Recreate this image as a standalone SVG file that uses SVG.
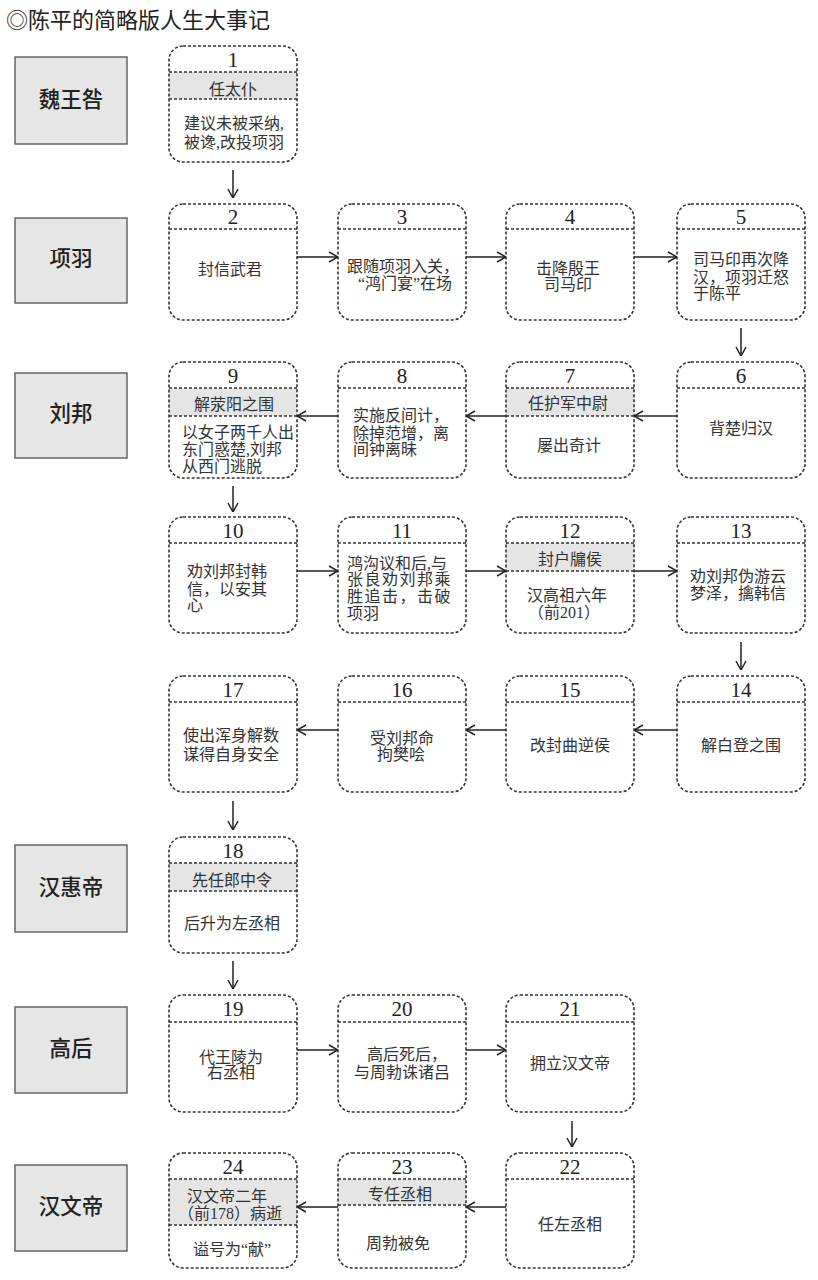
<svg xmlns="http://www.w3.org/2000/svg" width="818" height="1280" viewBox="0 0 818 1280">
<style>
.bg{fill:#fff}
.box{fill:none;stroke:#333;stroke-width:1.6;stroke-dasharray:3 2}
.sep{stroke:#333;stroke-width:1.6;stroke-dasharray:3 2}
.band{fill:#e5e5e5}
.num{font-family:"Liberation Serif",serif;font-size:21px;text-anchor:middle;fill:#222}
.t{font-family:"Liberation Serif","Noto Sans CJK SC",serif;font-size:16px;fill:#333}
.c{text-anchor:middle}
.lab rect{fill:#e6e6e6;stroke:#666;stroke-width:1.5}
.lab text{font-family:"Noto Sans CJK SC",sans-serif;font-size:21.5px;font-weight:500;text-anchor:middle;fill:#222}
.title{font-family:"Noto Sans CJK SC",sans-serif;font-size:22px;fill:#222}
.conn line{stroke:#222;stroke-width:1.5;marker-end:url(#ah)}
</style>
<defs>
<marker id="ah" viewBox="0 0 10 12" refX="10" refY="6" markerWidth="10" markerHeight="12" markerUnits="userSpaceOnUse" orient="auto">
<path d="M1,1 L10,6 L1,11" fill="none" stroke="#222" stroke-width="1.5"/>
</marker>
</defs>
<rect class="bg" x="0" y="0" width="818" height="1280"/>
<text class="title" x="6" y="28">◎陈平的简略版人生大事记</text>

<g id="labels" class="lab">
<g id="L1"><rect x="15" y="57" width="112" height="87"/><text x="71" y="107">魏王咎</text></g>
<g id="L2"><rect x="15" y="218" width="112" height="85"/><text x="71" y="266">项羽</text></g>
<g id="L3"><rect x="15" y="373" width="112" height="85"/><text x="71" y="421">刘邦</text></g>
<g id="L4"><rect x="15" y="845" width="112" height="87"/><text x="71" y="895">汉惠帝</text></g>
<g id="L5"><rect x="15" y="1007" width="112" height="86"/><text x="71" y="1056">高后</text></g>
<g id="L6"><rect x="15" y="1165" width="112" height="86"/><text x="71" y="1214">汉文帝</text></g>
</g>

<g id="n1">
<rect class="band" x="169" y="72" width="128" height="27"/>
<rect class="box" x="169" y="46" width="128" height="116" rx="14"/>
<line class="sep" x1="169" y1="72" x2="297" y2="72"/><line class="sep" x1="169" y1="99" x2="297" y2="99"/>
<text class="num" x="233" y="67">1</text>
<text class="t c" x="233" y="94.5">任太仆</text>
<text class="t c" x="234" y="128.5">建议未被采纳,</text>
<text class="t c" x="234" y="147.5">被谗,改投项羽</text>
</g>

<g id="n2">
<rect class="box" x="169" y="204" width="128" height="116" rx="14"/>
<line class="sep" x1="169" y1="229" x2="297" y2="229"/>
<text class="num" x="233" y="224">2</text>
<text class="t c" x="230" y="275">封信武君</text>
</g>
<g id="n3">
<rect class="box" x="338" y="204" width="128" height="116" rx="14"/>
<line class="sep" x1="338" y1="229" x2="466" y2="229"/>
<text class="num" x="402" y="224">3</text>
<text class="t c" x="403" y="272">跟随项羽入关，</text>
<text class="t c" x="405" y="288.5">“鸿门宴”在场</text>
</g>
<g id="n4">
<rect class="box" x="506" y="204" width="128" height="116" rx="14"/>
<line class="sep" x1="506" y1="229" x2="634" y2="229"/>
<text class="num" x="570" y="224">4</text>
<text class="t c" x="568" y="273.5">击降殷王</text>
<text class="t c" x="568" y="290">司马印</text>
</g>
<g id="n5">
<rect class="box" x="677" y="204" width="128" height="116" rx="14"/>
<line class="sep" x1="677" y1="229" x2="805" y2="229"/>
<text class="num" x="741" y="224">5</text>
<text class="t" x="693" y="265">司马印再次降</text>
<text class="t" x="693" y="282.5">汉，项羽迁怒</text>
<text class="t" x="693" y="298.5">于陈平</text>
</g>

<g id="n6">
<rect class="box" x="677" y="362" width="128" height="116" rx="14"/>
<line class="sep" x1="677" y1="388" x2="805" y2="388"/>
<text class="num" x="741" y="383">6</text>
<text class="t c" x="741" y="433.5">背楚归汉</text>
</g>
<g id="n7">
<rect class="band" x="506" y="388" width="128" height="28"/>
<rect class="box" x="506" y="362" width="128" height="116" rx="14"/>
<line class="sep" x1="506" y1="388" x2="634" y2="388"/><line class="sep" x1="506" y1="416" x2="634" y2="416"/>
<text class="num" x="570" y="383">7</text>
<text class="t c" x="568" y="408.5">任护军中尉</text>
<text class="t c" x="569" y="451">屡出奇计</text>
</g>
<g id="n8">
<rect class="box" x="338" y="362" width="128" height="116" rx="14"/>
<line class="sep" x1="338" y1="388" x2="466" y2="388"/>
<text class="num" x="402" y="383">8</text>
<text class="t" x="353" y="421">实施反间计，</text>
<text class="t" x="353" y="438.5">除掉范增，离</text>
<text class="t" x="353" y="455">间钟离昧</text>
</g>
<g id="n9">
<rect class="band" x="169" y="388" width="128" height="28"/>
<rect class="box" x="169" y="362" width="128" height="116" rx="14"/>
<line class="sep" x1="169" y1="388" x2="297" y2="388"/><line class="sep" x1="169" y1="416" x2="297" y2="416"/>
<text class="num" x="233" y="383">9</text>
<text class="t c" x="234" y="409.5">解荥阳之围</text>
<text class="t" x="182" y="437.5">以女子两千人出</text>
<text class="t" x="182" y="455">东门惑楚,刘邦</text>
<text class="t" x="182" y="472">从西门逃脱</text>
</g>

<g id="n10">
<rect class="box" x="169" y="517" width="128" height="116" rx="14"/>
<line class="sep" x1="169" y1="543" x2="297" y2="543"/>
<text class="num" x="233" y="538">10</text>
<text class="t" x="187" y="577">劝刘邦封韩</text>
<text class="t" x="187" y="595">信，以安其</text>
<text class="t" x="187" y="611">心</text>
</g>
<g id="n11">
<rect class="box" x="338" y="517" width="128" height="116" rx="14"/>
<line class="sep" x1="338" y1="543" x2="466" y2="543"/>
<text class="num" x="402" y="538">11</text>
<text class="t" x="347" y="568.5">鸿沟议和后,与</text>
<text class="t" x="347" y="585" letter-spacing="1.5">张良劝刘邦乘</text>
<text class="t" x="347" y="602" letter-spacing="1.5">胜追击，击破</text>
<text class="t" x="347" y="618.5">项羽</text>
</g>
<g id="n12">
<rect class="band" x="506" y="543" width="128" height="28"/>
<rect class="box" x="506" y="517" width="128" height="116" rx="14"/>
<line class="sep" x1="506" y1="543" x2="634" y2="543"/><line class="sep" x1="506" y1="571" x2="634" y2="571"/>
<text class="num" x="570" y="538">12</text>
<text class="t c" x="570" y="564.5">封户牖侯</text>
<text class="t c" x="567" y="600.5">汉高祖六年</text>
<text class="t c" x="564" y="618">（前201）</text>
</g>
<g id="n13">
<rect class="box" x="677" y="517" width="128" height="116" rx="14"/>
<line class="sep" x1="677" y1="543" x2="805" y2="543"/>
<text class="num" x="741" y="538">13</text>
<text class="t c" x="738" y="582">劝刘邦伪游云</text>
<text class="t c" x="738" y="598.5">梦泽，擒韩信</text>
</g>

<g id="n14">
<rect class="box" x="677" y="676" width="128" height="116" rx="14"/>
<line class="sep" x1="677" y1="702" x2="805" y2="702"/>
<text class="num" x="741" y="697">14</text>
<text class="t c" x="741" y="750.5">解白登之围</text>
</g>
<g id="n15">
<rect class="box" x="506" y="676" width="128" height="116" rx="14"/>
<line class="sep" x1="506" y1="702" x2="634" y2="702"/>
<text class="num" x="570" y="697">15</text>
<text class="t c" x="570" y="750.5">改封曲逆侯</text>
</g>
<g id="n16">
<rect class="box" x="338" y="676" width="128" height="116" rx="14"/>
<line class="sep" x1="338" y1="702" x2="466" y2="702"/>
<text class="num" x="402" y="697">16</text>
<text class="t c" x="402" y="743.5">受刘邦命</text>
<text class="t c" x="401" y="760">拘樊哙</text>
</g>
<g id="n17">
<rect class="box" x="169" y="676" width="128" height="116" rx="14"/>
<line class="sep" x1="169" y1="702" x2="297" y2="702"/>
<text class="num" x="233" y="697">17</text>
<text class="t c" x="231" y="741">使出浑身解数</text>
<text class="t c" x="231" y="759.5">谋得自身安全</text>
</g>

<g id="n18">
<rect class="band" x="169" y="863" width="128" height="28"/>
<rect class="box" x="169" y="837" width="128" height="116" rx="14"/>
<line class="sep" x1="169" y1="863" x2="297" y2="863"/><line class="sep" x1="169" y1="891" x2="297" y2="891"/>
<text class="num" x="233" y="858">18</text>
<text class="t c" x="232" y="886">先任郎中令</text>
<text class="t c" x="232" y="928.5">后升为左丞相</text>
</g>

<g id="n19">
<rect class="box" x="169" y="995" width="128" height="117" rx="14"/>
<line class="sep" x1="169" y1="1022" x2="297" y2="1022"/>
<text class="num" x="233" y="1016">19</text>
<text class="t c" x="231" y="1062.5">代王陵为</text>
<text class="t c" x="231" y="1077.5">右丞相</text>
</g>
<g id="n20">
<rect class="box" x="338" y="995" width="128" height="117" rx="14"/>
<line class="sep" x1="338" y1="1022" x2="466" y2="1022"/>
<text class="num" x="402" y="1016">20</text>
<text class="t c" x="407" y="1059.5">高后死后，</text>
<text class="t c" x="402" y="1077.5">与周勃诛诸吕</text>
</g>
<g id="n21">
<rect class="box" x="506" y="995" width="128" height="117" rx="14"/>
<line class="sep" x1="506" y1="1022" x2="634" y2="1022"/>
<text class="num" x="570" y="1016">21</text>
<text class="t c" x="570" y="1068.5">拥立汉文帝</text>
</g>

<g id="n22">
<rect class="box" x="506" y="1153" width="128" height="115" rx="14"/>
<line class="sep" x1="506" y1="1179" x2="634" y2="1179"/>
<text class="num" x="570" y="1174">22</text>
<text class="t c" x="570" y="1229.5">任左丞相</text>
</g>
<g id="n23">
<rect class="band" x="338" y="1179" width="128" height="26"/>
<rect class="box" x="338" y="1153" width="128" height="115" rx="14"/>
<line class="sep" x1="338" y1="1179" x2="466" y2="1179"/><line class="sep" x1="338" y1="1205" x2="466" y2="1205"/>
<text class="num" x="402" y="1174">23</text>
<text class="t c" x="400" y="1199.5">专任丞相</text>
<text class="t c" x="398" y="1248.5">周勃被免</text>
</g>
<g id="n24">
<rect class="band" x="169" y="1179" width="128" height="46"/>
<rect class="box" x="169" y="1153" width="128" height="115" rx="14"/>
<line class="sep" x1="169" y1="1179" x2="297" y2="1179"/><line class="sep" x1="169" y1="1225" x2="297" y2="1225"/>
<text class="num" x="233" y="1174">24</text>
<text class="t c" x="227" y="1201.5">汉文帝二年</text>
<text class="t c" x="230" y="1218.5">（前178）病逝</text>
<text class="t c" x="232" y="1254.5">谥号为“献”</text>
</g>

<g id="connectors" class="conn">
<line x1="233" y1="170" x2="233" y2="198"/>
<line x1="297" y1="257" x2="338" y2="257"/>
<line x1="466" y1="257" x2="506" y2="257"/>
<line x1="634" y1="257" x2="677" y2="257"/>
<line x1="741" y1="328" x2="741" y2="356"/>
<line x1="677" y1="416" x2="634" y2="416"/>
<line x1="506" y1="416" x2="466" y2="416"/>
<line x1="338" y1="416" x2="297" y2="416"/>
<line x1="233" y1="486" x2="233" y2="512"/>
<line x1="297" y1="571" x2="338" y2="571"/>
<line x1="466" y1="571" x2="506" y2="571"/>
<line x1="634" y1="571" x2="677" y2="571"/>
<line x1="741" y1="642" x2="741" y2="670"/>
<line x1="677" y1="730" x2="634" y2="730"/>
<line x1="506" y1="730" x2="466" y2="730"/>
<line x1="338" y1="730" x2="297" y2="730"/>
<line x1="233" y1="801" x2="233" y2="830"/>
<line x1="233" y1="961" x2="233" y2="989"/>
<line x1="297" y1="1050" x2="338" y2="1050"/>
<line x1="466" y1="1050" x2="506" y2="1050"/>
<line x1="572" y1="1121" x2="572" y2="1147"/>
<line x1="506" y1="1207" x2="466" y2="1207"/>
<line x1="338" y1="1207" x2="297" y2="1207"/>
</g>
</svg>
